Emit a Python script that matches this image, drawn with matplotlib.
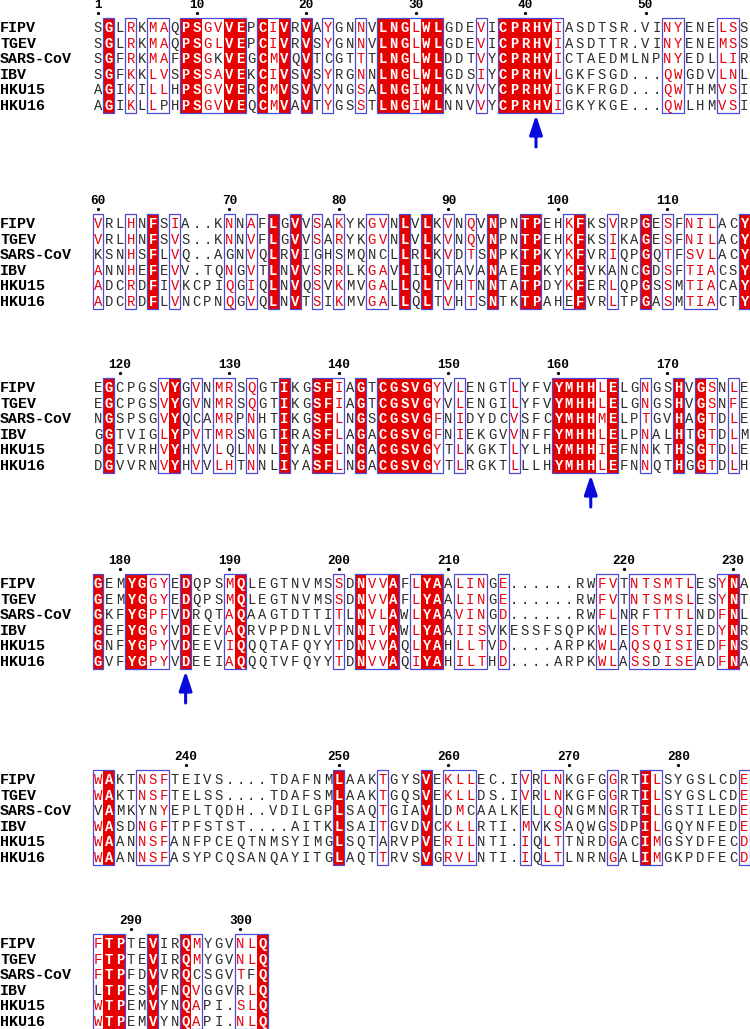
import matplotlib
matplotlib.use("Agg")
import matplotlib.pyplot as plt
import matplotlib.patches as patches

# -----------------------------
# ALIGNMENT DATA
# -----------------------------
NAMES = ["FIPV", "TGEV", "SARS-CoV", "IBV", "HKU15", "HKU16"]

BLOCK1 = [
    "SGLRKMAQPSGVVEPCIVRVAYGNNVLNGLWLGDEVICPRHVIASDTSR.VINYENELSS",
    "SGLRKMAQPSGLVEPCIVRVSYGNNVLNGLWLGDEVICPRHVIASDTTR.VINYENEMSS",
    "SGFRKMAFPSGKVEGCMVQVTCGTTTLNGLWLDDTVYCPRHVICTAEDMLNPNYEDLLIR",
    "SGFKKLVSPSSAVEKCIVSVSYRGNNLNGLWLGDSIYCPRHVLGKFSGD...QWGDVLNL",
    "AGIKILLHPSGVVERCMVSVVYNGSALNGIWLKNVVYCPRHVIGKFRGD...QWTHMVSI",
    "AGIKLLPHPSGVVEQCMVAVTYGSSTLNGIWLNNVVYCPRHVIGKYKGE...QWLHMVSI",
]
BLOCK2 = [
    "VRLHNFSIA..KNNAFLGVVSAKYKGVNLVLKVNQVNPNTPEHKFKSVRPGESFNILACY",
    "VRLHNFSVS..KNNVFLGVVSARYKGVNLVLKVNQVNPNTPEHKFKSIKAGESFNILACY",
    "KSNHSFLVQ..AGNVQLRVIGHSMQNCLLRLKVDTSNPKTPKYKFVRIQPGQTFSVLACY",
    "ANNHEFEVV.TQNGVTLNVVSRRLKGAVLILQTAVANAETPKYKFVKANCGDSFTIACSY",
    "ADCRDFIVKCPIQGIQLNVQSVKMVGALLQLTVHTNNTATPDYKFERLQPGSSMTIACAY",
    "ADCRDFLVNCPNQGVQLNVTSIKMVGALLQLTVHTSNTKTPAHEFVRLTPGASMTIACTY",
]
BLOCK3 = [
    "EGCPGSVYGVNMRSQGTIKGSFIAGTCGSVGYVLENGTLYFVYMHHLELGNGSHVGSNLE",
    "EGCPGSVYGVNMRSQGTIKGSFIAGTCGSVGYVLENGILYFVYMHHLELGNGSHVGSNFE",
    "NGSPSGVYQCAMRPNHTIKGSFLNGSCGSVGFNIDYDCVSFCYMHHMELPTGVHAGTDLE",
    "GGTVIGLYPVTMRSNGTIRASFLAGACGSVGFNIEKGVVNFFYMHHLELPNALHTGTDLM",
    "DGIVRHVYHVVLQLNNLIYASFLNGACGSVGYTLKGKTLYLHYMHHIEFNNKTHSGTDLE",
    "DGVVRNVYHVVLHTNNLIYASFLNGACGSVGYTLRGKTLLLHYMHHLEFNNQTHGGTDLH",
]
BLOCK4 = [
    "GEMYGGYEDQPSMQLEGTNVMSSDNVVAFLYAALINGE......RWFVTNTSMTLESYNA",
    "GEMYGGYEDQPSMQLEGTNVMSSDNVVAFLYAALINGE......RWFVTNTSMSLESYNT",
    "GKFYGPFVDRQTAQAAGTDTTITLNVLAWLYAAVINGD......RWFLNRFTTTLNDFNL",
    "GEFYGGYVDEEVAQRVPPDNLVTNNIVAWLYAAIISVKESSFSQPKWLESTTVSIEDYNR",
    "GNFYGPYVDEEVIQQQTAFQYYTDNVVAQLYAHLLTVD....ARPKWLAQSQISIEDFNS",
    "GVFYGPYVDEEIAQQQTVFQYYTDNVVAQIYAHILTHD....ARPKWLASSDISEADFNA",
]
BLOCK5 = [
    "WAKTNSFTEIVS....TDAFNMLAAKTGYSVEKLLEC.IVRLNKGFGGRTILSYGSLCDE",
    "WAKTNSFTELSS....TDAFSMLAAKTGQSVEKLLDS.IVRLNKGFGGRTILSYGSLCDE",
    "VAMKYNYEPLTQDH..VDILGPLSAQTGIAVLDMCAALKELLQNGMNGRTILGSTILEDE",
    "WASDNGFTPFSTST....AITKLSAITGVDVCKLLRTI.MVKSAQWGSDPILGQYNFEDE",
    "WAANNSFANFPCEQTNMSYIMGLSQTARVPVERILNTI.IQLTTNRDGACIMGSYDFECD",
    "WAANNSFASYPCQSANQAYITGLAQTTRVSVGRVLNTI.IQLTLNRNGALIMGKPDFECD",
]
BLOCK6 = [
    "FTPTEVIRQMYGVNLQ",
    "FTPTEVIRQMYGVNLQ",
    "FTPFDVVRQCSGVTFQ",
    "LTPESVFNQVGGVRLQ",
    "WTPEMVYNQAPI.SLQ",
    "WTPEMVYNQAPI.NLQ",
]
BLOCKS = [BLOCK1, BLOCK2, BLOCK3, BLOCK4, BLOCK5, BLOCK6]

# column classes: R = strict identity, B = similarity box, . = none
TYPES = [
    ".R.B.BB.RR" "BBRR.RBR.R" ".B..B.RRRB" "RR...B.RRR" "RRB......." "..BB...BB.",
    "B..B.R.B.." "..B.B.R.R." "B.B..BB.R." "R.B.B.R..R" "R..BR..B.." "R.B.BBB..R",
    ".R....BR.B" ".BB.B..R.." "RRB.R.RRRR" "RB.B....B." "..RRRRBR.." "B..R.RB.B.",
    "R..RRBB.R." "..BR......" "..B.RBBR.B" "RR.BBB.B.." "......BB.B" "BBBBB..BR.",
    "BR..BBB..." ".........." "..R...B..." "R.BBB....B" ".BB....B.." "RB.......B",
    "BRR..R..RB...BBR",
]

# residues inside similarity boxes that stay black (row, column)
BLACK = [
    [(5, 7), (2, 12), (2, 22)],
    [(2, 1), (2, 13), (2, 21), (2, 23), (2, 26), (2, 27), (3, 33), (3, 35),
     (5, 44), (3, 48)],
    [(2, 10), (4, 13)],
    [(3, 38), (2, 50), (2, 51), (5, 52)],
    [(2, 1), (2, 5), (2, 6), (4, 27), (2, 33), (2, 35), (2, 40), (3, 42)],
    [(3, 1), (2, 10), (3, 14), (2, 15)],
]

# key residues marked with an arrow (column in block)
ARROWS = [41, None, 46, 9, None, None]

# -----------------------------
# STYLE
# -----------------------------
RED_TEXT = "#e8000b"
RED_FILL = "#e60000"
FRAME = "#4a4ad6"
INK = "#2b2b2b"
MONO = "Liberation Mono"

W, H = 750, 1029
X0, CW = 98, 10.95      # first column centre (px) and column width (px)
RH = 15.6               # row pitch (px)
Y_FIRST = 28
GAP = 164
ARROW_EXTRA = 32

fig = plt.figure(figsize=(W / 100, H / 100), dpi=100)
ax = fig.add_axes([0, 0, 1, 1])
ax.set_xlim(1 - X0 / CW, 1 + (W - X0) / CW)
ax.set_ylim(H, 0)
ax.axis("off")

x_left = 1 - X0 / CW
res = 0
y0 = Y_FIRST

for bi, block in enumerate(BLOCKS):
    types = TYPES[bi]
    black = set(BLACK[bi])
    top = y0 - 10.5
    bottom = y0 + 5 * RH + 7

    # red identity columns
    for c, t in enumerate(types, 1):
        if t == "R":
            ax.add_patch(patches.Rectangle(
                (c - 0.5, top), 1, bottom - top,
                facecolor=RED_FILL, edgecolor="none", zorder=1))

    # blue frames around runs of conserved columns
    c = 1
    while c <= len(types):
        if types[c - 1] != ".":
            start = c
            while c <= len(types) and types[c - 1] != ".":
                c += 1
            ax.add_patch(patches.Rectangle(
                (start - 0.5, top), c - start, bottom - top,
                facecolor="none", edgecolor=FRAME, linewidth=0.9, zorder=3))
        else:
            c += 1

    # residues
    for r, seq in enumerate(block):
        yr = y0 + r * RH
        for c, ch in enumerate(seq, 1):
            t = types[c - 1]
            if t == "R":
                color, weight = "white", "bold"
            elif t == "B" and (r, c) not in black:
                color, weight = RED_TEXT, "normal"
            else:
                color, weight = INK, "normal"
            ax.text(c, yr, ch, ha="center", va="center", fontsize=10,
                    family=MONO, color=color, fontweight=weight, zorder=4)

    # sequence names
    for r, name in enumerate(NAMES):
        ax.text(x_left, y0 + r * RH, name, ha="left", va="center",
                fontsize=10.8, family=MONO, fontweight="bold",
                color="black", zorder=4)

    # numbering from the first sequence
    for c, ch in enumerate(block[0], 1):
        if ch == ".":
            continue
        res += 1
        if res == 1 or res % 10 == 0:
            ax.text(c, y0 - 23, str(res), ha="center", va="center",
                    fontsize=9.2, family=MONO, fontweight="bold", color="black")
            ax.plot([c], [y0 - 15], marker="o", ms=1.3, color="black")

    # arrows
    if ARROWS[bi] is not None:
        ac = ARROWS[bi]
        ax.annotate("", xy=(ac, bottom + 2), xytext=(ac, bottom + 34),
                    arrowprops=dict(arrowstyle="-|>,head_length=0.9,head_width=0.3",
                                    color="#0a0adc", lw=2.2, mutation_scale=13,
                                    shrinkA=0, shrinkB=0))

    y0 += GAP + (ARROW_EXTRA if ARROWS[bi] is not None else 0)

fig.savefig("out.png", dpi=100)
